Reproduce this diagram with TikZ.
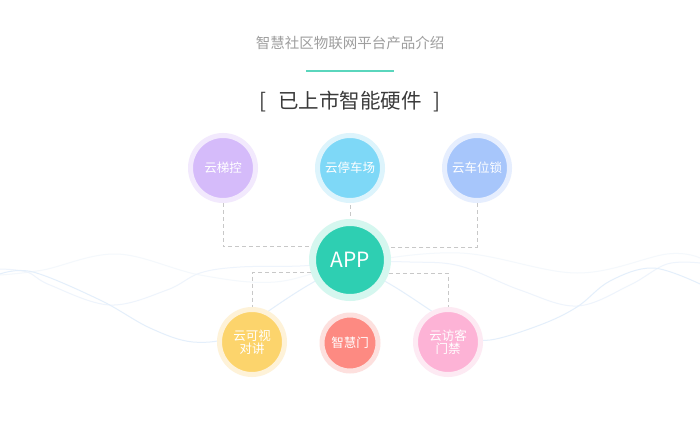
\documentclass[tikz,border=0pt]{standalone}
\usepackage{fontspec}
\setmainfont{Noto Sans CJK SC}
\definecolor{titlegray}{HTML}{9E9E9E}
\definecolor{headgray}{HTML}{3A3A3A}
\definecolor{tealline}{HTML}{5AD6BD}
\definecolor{conngray}{HTML}{C8C8C8}
\definecolor{waveA}{HTML}{E4EFFB}
\definecolor{waveB}{HTML}{EEF4FC}
\definecolor{waveC}{HTML}{F4F8FC}
\definecolor{lavin}{HTML}{D5BBFA}\definecolor{lavout}{HTML}{F2E9FD}
\definecolor{skyin}{HTML}{7ED8F7}\definecolor{skyout}{HTML}{DDF4FC}
\definecolor{bluin}{HTML}{A7C6FB}\definecolor{bluout}{HTML}{E6EEFE}
\definecolor{appin}{HTML}{2ECFB2}\definecolor{appout}{HTML}{D5F7EF}
\definecolor{yelin}{HTML}{FCD46C}\definecolor{yelout}{HTML}{FEF2D8}
\definecolor{redin}{HTML}{FD8A82}\definecolor{redout}{HTML}{FDE0DE}
\definecolor{pinkin}{HTML}{FDB3D6}\definecolor{pinkout}{HTML}{FDEAF3}
\tikzset{
  bub/.style 2 args={circle, inner sep=0pt, fill=#1, draw=#2, text=white,
    align=center, font=\fontsize{12.5}{15}\selectfont},
  bigbub/.style={minimum size=65pt, line width=5pt},
  conn/.style={draw=conngray, line width=1pt, dash pattern=on 4pt off 3pt},
  wave/.style={line width=1pt}
}
\begin{document}
\begin{tikzpicture}[x=1pt,y=-1pt]
\useasboundingbox (0,0) rectangle (700,420);
\fill[white] (0,0) rectangle (700,420);
% background waves
\draw[wave, waveC] plot[smooth, tension=0.6] coordinates {(0,275) (43,270) (117,254) (200,275) (275,282) (350,264) (460,253) (577,273) (667,254) (700,258)};
\draw[wave, waveB] plot[smooth, tension=0.6] coordinates {(0,269) (27,272) (50,285) (110,305) (167,290) (200,273) (240,267) (300,266) (350,262) (410,262) (460,266) (520,290) (577,306) (630,285) (667,264) (700,263)};
\draw[wave, waveA] plot[smooth, tension=0.6] coordinates {(0,274) (33,272) (100,300) (150,328) (193,342) (235,336) (270,310) (312,283) (350,265) (388,283) (430,310) (465,334) (490,340) (540,325) (577,307) (610,281) (653,268) (700,284)};
% titles
\node[text=titlegray, font=\fontsize{14.5}{16}\selectfont] (title) at (350,43) {智慧社区物联网平台产品介绍};
\coordinate (ul) at (306,71);
\coordinate (ur) at (394,71);
\draw[tealline, line width=1.5pt] (ul) -- (ur);
\node[text=headgray, font=\fontsize{20.5}{24}\selectfont] (head) at (350,102) {[\hspace{12pt}已上市智能硬件\hspace{12pt}]};
% nodes
\node[bub={lavin}{lavout}, bigbub] (tik) at (223,168) {云梯控};
\node[bub={skyin}{skyout}, bigbub] (park) at (350,168) {云停车场};
\node[bub={bluin}{bluout}, bigbub] (lock) at (477,168) {云车位锁};
\node[bub={appin}{appout}, minimum size=75pt, line width=7pt, font=\fontsize{21}{24}\selectfont] (app) at (350,260) {APP};
\node[bub={yelin}{yelout}, bigbub] (vis) at (252,342) {云可视\\[-2pt]对讲};
\node[bub={redin}{redout}, minimum size=56pt, line width=5pt] (door) at (350,343) {智慧门};
\node[bub={pinkin}{pinkout}, bigbub] (fk) at (448,342) {云访客\\[-2pt]门禁};
% connectors
\draw[conn] (tik.south) |- (app.161.5);
\draw[conn, shorten <=2pt, shorten >=2pt] (park.south) -- (app.north);
\draw[conn] (lock.south) |- (app.18.5);
\draw[conn] (app.198.5) -| (vis.north);
\draw[conn] (app.341.5) -| (fk.north);
\end{tikzpicture}
\end{document}
